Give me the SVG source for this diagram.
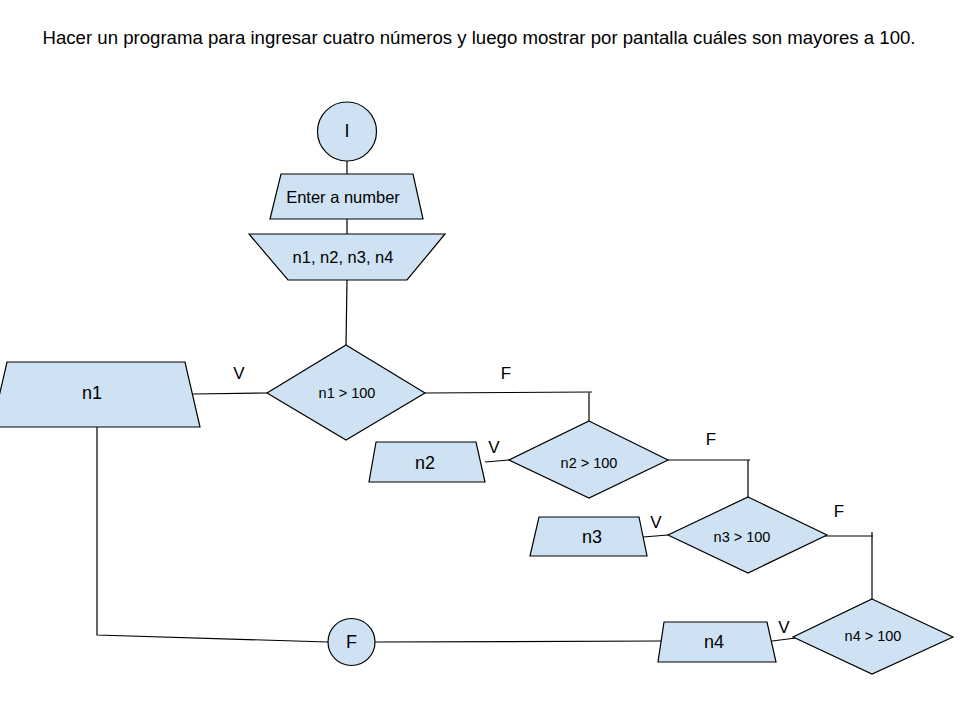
<svg xmlns="http://www.w3.org/2000/svg" width="960" height="720" viewBox="0 0 960 720">
<style>
.s{fill:#cfe2f3;stroke:#000;stroke-width:1.2}
.c{fill:none;stroke:#000;stroke-width:1.2}
text{font-family:"Liberation Sans",Arial,sans-serif;fill:#000;text-anchor:middle;dominant-baseline:central}
.t{font-size:16.5px}
.d{font-size:14.5px}
.l{font-size:17px}
.n{font-size:18px}
</style>
<rect width="960" height="720" fill="#fff"/>
<text x="479" y="38" style="font-size:17.5px" textLength="873" lengthAdjust="spacingAndGlyphs">Hacer un programa para ingresar cuatro números y luego mostrar por pantalla cuáles son mayores a 100.</text>
<g id="connectors">
<path class="c" d="M347,161V174M347,219V234M347,280L346,345"/>
<path class="c" d="M193,394L267,393"/>
<path class="c" d="M97,427V635L328,642"/>
<path class="c" d="M375,642L661,641"/>
<path class="c" d="M425,393L592,392M589,392V421"/>
<path class="c" d="M485,462L509,460"/>
<path class="c" d="M668,460H750M748,460V497"/>
<path class="c" d="M643,537L668,535"/>
<path class="c" d="M813,536H873M872,532V599"/>
<path class="c" d="M772,641L796,638"/>
</g>
<g id="labels">
<text class="l" x="239" y="373">V</text>
<text class="l" x="506" y="373">F</text>
<text class="l" x="494" y="447">V</text>
<text class="l" x="711" y="439">F</text>
<text class="l" x="656" y="522">V</text>
<text class="l" x="839" y="511">F</text>
<text class="l" x="784" y="627">V</text>
</g>
<g id="start">
<circle class="s" cx="347" cy="131.5" r="29.5"/>
<text class="n" x="347" y="131">I</text>
</g>
<g id="prompt">
<polygon class="s" points="281,174 413,174 423,219 270,219"/>
<text class="t" x="343" y="197">Enter a number</text>
</g>
<g id="input">
<polygon class="s" points="249,234 445,234 407,280 288,280"/>
<text class="t" x="343" y="257">n1, n2, n3, n4</text>
</g>
<g id="cond1">
<polygon class="s" points="346,345 425,393 346,440 267,393"/>
<text class="d" x="347" y="393">n1 &gt; 100</text>
</g>
<g id="out1">
<polygon class="s" points="7,362 185,362 200,427 -8,427"/>
<text class="n" x="92" y="393">n1</text>
</g>
<g id="cond2">
<polygon class="s" points="589,421 668,460 589,498 509,460"/>
<text class="d" x="589" y="463">n2 &gt; 100</text>
</g>
<g id="out2">
<polygon class="s" points="376,442 476,442 485,482 369,482"/>
<text class="n" x="425" y="463">n2</text>
</g>
<g id="cond3">
<polygon class="s" points="748,497 827,535 748,573 668,535"/>
<text class="d" x="742" y="537">n3 &gt; 100</text>
</g>
<g id="out3">
<polygon class="s" points="539,517 639,517 647,556 530,556"/>
<text class="n" x="592" y="537">n3</text>
</g>
<g id="cond4">
<polygon class="s" points="872,599 953,637 872,674 793,637"/>
<text class="d" x="873" y="636">n4 &gt; 100</text>
</g>
<g id="out4">
<polygon class="s" points="664,622 767,622 776,662 658,662"/>
<text class="n" x="714" y="642">n4</text>
</g>
<g id="end">
<circle class="s" cx="351.5" cy="642" r="23.5"/>
<text class="n" x="351.5" y="642">F</text>
</g>
</svg>
